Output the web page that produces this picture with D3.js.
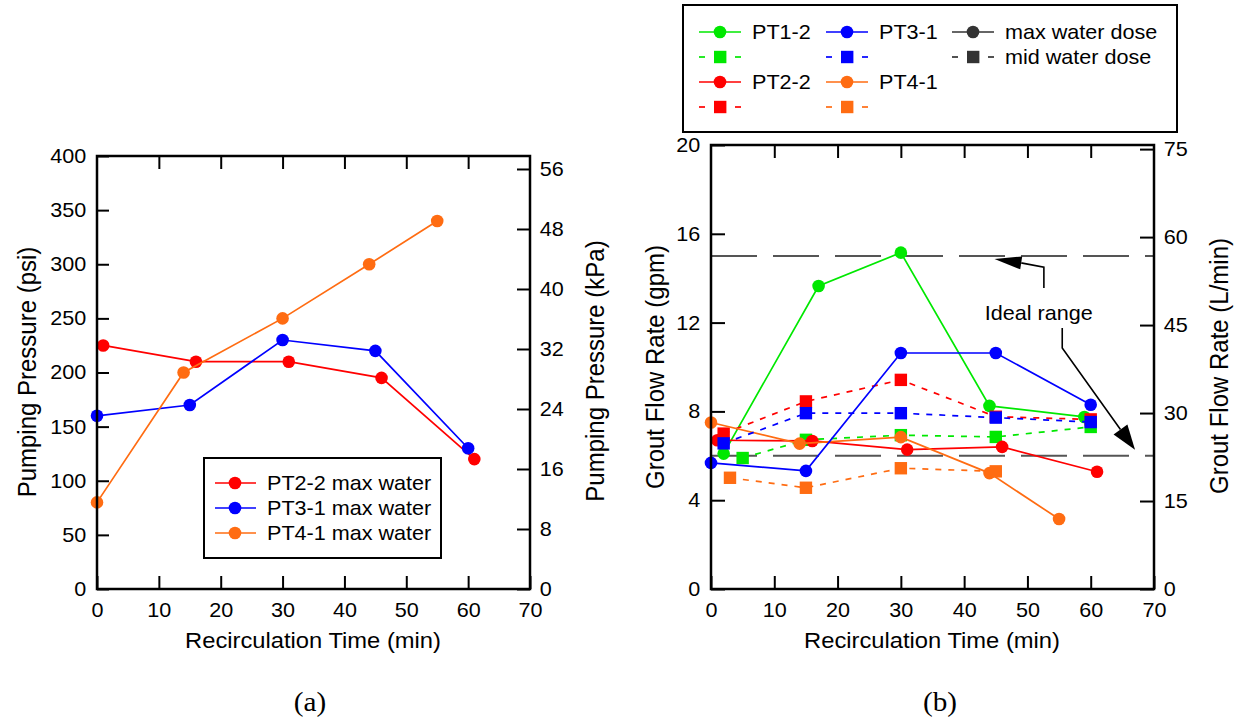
<!DOCTYPE html>
<html><head><meta charset="utf-8">
<script src="https://cdn.jsdelivr.net/npm/d3@7"></script>
<style>body{margin:0;background:#fff}svg{display:block}</style>
</head><body><svg id="c" width="1239" height="721"></svg>
<script>
// ---------- tick labels ----------
const timeTicks = [0, 10, 20, 30, 40, 50, 60, 70];
const psiTicks = [0, 50, 100, 150, 200, 250, 300, 350, 400];
const kpaTicks = [0, 8, 16, 24, 32, 40, 48, 56];
const gpmTicks = [0, 4, 8, 12, 16, 20];
const lpmTicks = [0, 15, 30, 45, 60, 75];

// ---------- chart (a): pumping pressure ----------
const legendA = ["PT2-2 max water", "PT3-1 max water", "PT4-1 max water"];
const pt22TimeA = [1, 16, 31, 46, 61];
const pt22Psi   = [225, 210, 210, 195, 120];
const pt31TimeA = [0, 15, 30, 45, 60];
const pt31Psi   = [160, 170, 230, 220, 130];
const pt41TimeA = [0, 14, 30, 44, 55];
const pt41Psi   = [80, 200, 250, 300, 340];

// ---------- chart (b): grout flow rate ----------
const seriesB = ["PT1-2", "PT3-1", "PT2-2", "PT4-1"];
const doseLabels = ["max water dose", "mid water dose"];
// max water dose (circles, solid)
const pt12MaxTime = [2, 17, 30, 44, 59];
const pt12MaxGpm  = [6.1, 13.65, 15.15, 8.25, 7.75];
const pt22MaxTime = [1, 16, 31, 46, 61];
const pt22MaxGpm  = [6.7, 6.67, 6.28, 6.4, 5.28];
const pt31MaxTime = [0, 15, 30, 45, 60];
const pt31MaxGpm  = [5.68, 5.32, 10.63, 10.63, 8.3];
const pt41MaxTime = [0, 14, 30, 44, 55];
const pt41MaxGpm  = [7.5, 6.55, 6.84, 5.22, 3.15];
// mid water dose (squares, dashed)
const pt12MidTime = [5, 15, 30, 45, 60];
const pt12MidGpm  = [5.9, 6.72, 6.93, 6.85, 7.3];
const pt22MidTime = [2, 15, 30, 45, 60];
const pt22MidGpm  = [7.0, 8.45, 9.42, 7.76, 7.64];
const pt31MidTime = [2, 15, 30, 45, 60];
const pt31MidGpm  = [6.56, 7.92, 7.92, 7.72, 7.52];
const pt41MidTime = [3, 15, 30, 45];
const pt41MidGpm  = [5.01, 4.56, 5.44, 5.3];
// ideal range
const idealRange = [6, 15];
const idealLabel = "Ideal range";

const colors = {"PT1-2": "#00e800", "PT2-2": "#ff0000", "PT3-1": "#0000ff", "PT4-1": "#ff6c12", "dose": "#333333"};

const SX = 1.08;
const FONT = "'Liberation Sans', Arial, Helvetica, sans-serif";
const svg = d3.select("#c");

function addText(x, y, str, size, opts = {}) {
  const t = svg.append("text")
    .attr("transform", `translate(${x},${y}) ` + (opts.rotate ? `rotate(-90) scale(1,${SX})` : `scale(${SX},1)`))
    .attr("font-family", opts.family || FONT)
    .attr("font-size", size)
    .attr("text-anchor", opts.anchor || "start")
    .attr("fill", "#000")
    .text(str);
  if (opts.central) t.attr("dominant-baseline", "central");
  return t;
}

function styleAxis(g, size) {
  g.select(".domain").remove();
  g.selectAll(".tick line").attr("stroke", "#000").attr("stroke-width", 2);
  g.selectAll(".tick text").attr("font-size", size).attr("font-family", FONT).attr("fill", "#000")
    .attr("transform", `scale(${SX},1)`);
}

function drawSeries(g, x, y, ts, vs, color, shape, dashed) {
  const data = ts.map((t, i) => [t, vs[i]]);
  g.append("path").datum(data)
    .attr("d", d3.line().x(d => x(d[0])).y(d => y(d[1])))
    .attr("fill", "none").attr("stroke", color).attr("stroke-width", 1.7)
    .attr("stroke-dasharray", dashed ? "6,7" : null);
  if (shape === "circle") {
    g.selectAll(null).data(data).enter().append("circle")
      .attr("cx", d => x(d[0])).attr("cy", d => y(d[1])).attr("r", 6.3).attr("fill", color);
  } else {
    g.selectAll(null).data(data).enter().append("rect")
      .attr("x", d => x(d[0]) - 6.2).attr("y", d => y(d[1]) - 6.2)
      .attr("width", 12.4).attr("height", 12.4).attr("fill", color);
  }
}

// ================= chart (a) =================
const A = {l: 97, r: 530, t: 156, b: 589};
const xA = d3.scaleLinear().domain([0, 70]).range([A.l, A.r]);
const yA = d3.scaleLinear().domain([0, 400]).range([A.b, A.t]);
const yA2 = d3.scaleLinear().domain([0, 56 * 400 / 388]).range([A.b, A.t]);

const gA = svg.append("g");
gA.append("g").attr("transform", `translate(0,${A.b})`)
  .call(d3.axisBottom(xA).tickValues(timeTicks).tickSize(-13).tickPadding(14).tickFormat(d3.format("d")))
  .call(g => styleAxis(g, 20));
gA.append("g").attr("transform", `translate(0,${A.t})`)
  .call(d3.axisTop(xA).tickValues(timeTicks.slice(1, -1)).tickSize(-13).tickFormat(""))
  .call(g => styleAxis(g, 20));
gA.append("g").attr("transform", `translate(${A.l},0)`)
  .call(d3.axisLeft(yA).tickValues(psiTicks).tickSize(-12).tickPadding(10).tickFormat(d3.format("d")))
  .call(g => styleAxis(g, 20));
gA.append("g").attr("transform", `translate(${A.r},0)`)
  .call(d3.axisRight(yA2).tickValues(kpaTicks).tickSize(-13).tickPadding(9).tickFormat(d3.format("d")))
  .call(g => styleAxis(g, 20));

const seriesA = gA.append("g");
drawSeries(seriesA, xA, yA, pt22TimeA, pt22Psi, colors["PT2-2"], "circle", false);
drawSeries(seriesA, xA, yA, pt31TimeA, pt31Psi, colors["PT3-1"], "circle", false);
drawSeries(seriesA, xA, yA, pt41TimeA, pt41Psi, colors["PT4-1"], "circle", false);

gA.append("rect").attr("x", A.l).attr("y", A.t).attr("width", A.r - A.l).attr("height", A.b - A.t)
  .attr("fill", "none").attr("stroke", "#000").attr("stroke-width", 2.5);

// legend (a)
svg.append("rect").attr("x", 204).attr("y", 458).attr("width", 237).attr("height", 100)
  .attr("fill", "#fff").attr("stroke", "#000").attr("stroke-width", 2);
const legColorsA = [colors["PT2-2"], colors["PT3-1"], colors["PT4-1"]];
legendA.forEach((name, i) => {
  const yy = 483 + i * 25;
  svg.append("line").attr("x1", 215).attr("x2", 256).attr("y1", yy).attr("y2", yy)
    .attr("stroke", legColorsA[i]).attr("stroke-width", 1.7);
  svg.append("circle").attr("cx", 235).attr("cy", yy).attr("r", 6.3).attr("fill", legColorsA[i]);
  addText(267, yy + 7, name, 20);
});

addText(313, 648, "Recirculation Time (min)", 22, {anchor: "middle"});
addText(27, 372, "Pumping Pressure (psi)", 24, {anchor: "middle", rotate: true, central: true});
addText(595, 371, "Pumping Pressure (kPa)", 24, {anchor: "middle", rotate: true, central: true});
addText(310, 711, "(a)", 27, {anchor: "middle", family: "'Liberation Serif', 'Times New Roman', serif"});

// ================= chart (b) =================
const B = {l: 711, r: 1154, t: 145, b: 589};
const xB = d3.scaleLinear().domain([0, 70]).range([B.l, B.r]);
const yB = d3.scaleLinear().domain([0, 20]).range([B.b, B.t]);
const yB2 = d3.scaleLinear().domain([0, 20 * 3.785]).range([B.b, B.t]);

const gB = svg.append("g");
gB.append("g").attr("transform", `translate(0,${B.b})`)
  .call(d3.axisBottom(xB).tickValues(timeTicks).tickSize(-13).tickPadding(14).tickFormat(d3.format("d")))
  .call(g => styleAxis(g, 20));
gB.append("g").attr("transform", `translate(0,${B.t})`)
  .call(d3.axisTop(xB).tickValues(timeTicks.slice(1, -1)).tickSize(-13).tickFormat(""))
  .call(g => styleAxis(g, 20));
gB.append("g").attr("transform", `translate(${B.l},0)`)
  .call(d3.axisLeft(yB).tickValues(gpmTicks).tickSize(-14).tickPadding(10).tickFormat(d3.format("d")))
  .call(g => styleAxis(g, 20));
gB.append("g").attr("transform", `translate(${B.r},0)`)
  .call(d3.axisRight(yB2).tickValues(lpmTicks).tickSize(-14).tickPadding(9).tickFormat(d3.format("d")))
  .call(g => styleAxis(g, 20));

// ideal range lines
gB.selectAll(null).data(idealRange).enter().append("line")
  .attr("x1", B.l).attr("x2", B.r).attr("y1", d => yB(d)).attr("y2", d => yB(d))
  .attr("stroke", "#555").attr("stroke-width", 2).attr("stroke-dasharray", "46,16");

const sB = gB.append("g");
drawSeries(sB, xB, yB, pt12MaxTime, pt12MaxGpm, colors["PT1-2"], "circle", false);
drawSeries(sB, xB, yB, pt12MidTime, pt12MidGpm, colors["PT1-2"], "square", true);
drawSeries(sB, xB, yB, pt22MaxTime, pt22MaxGpm, colors["PT2-2"], "circle", false);
drawSeries(sB, xB, yB, pt22MidTime, pt22MidGpm, colors["PT2-2"], "square", true);
drawSeries(sB, xB, yB, pt41MaxTime, pt41MaxGpm, colors["PT4-1"], "circle", false);
drawSeries(sB, xB, yB, pt41MidTime, pt41MidGpm, colors["PT4-1"], "square", true);
drawSeries(sB, xB, yB, pt31MaxTime, pt31MaxGpm, colors["PT3-1"], "circle", false);
drawSeries(sB, xB, yB, pt31MidTime, pt31MidGpm, colors["PT3-1"], "square", true);

gB.append("rect").attr("x", B.l).attr("y", B.t).attr("width", B.r - B.l).attr("height", B.b - B.t)
  .attr("fill", "none").attr("stroke", "#000").attr("stroke-width", 2.5);

// annotation (data coordinates of leader lines)
const arrowUp = [[52.6, 13.56], [52.6, 14.5], [49.2, 14.68], [44.8, 14.87]];
const arrowDown = [[55.5, 11.76], [55.5, 10.86], [67.0, 6.27]];
function drawArrow(pts, headLen, headHalf) {
  const p = pts.map(d => [xB(d[0]), yB(d[1])]);
  const tip = p[p.length - 1], prev = p[p.length - 2];
  const dx = tip[0] - prev[0], dy = tip[1] - prev[1], L = Math.hypot(dx, dy);
  const ux = dx / L, uy = dy / L;
  const bx = tip[0] - ux * headLen, by = tip[1] - uy * headLen;
  const line = p.slice(0, -1).concat([[bx, by]]);
  gB.append("path").attr("d", d3.line()(line)).attr("fill", "none").attr("stroke", "#000").attr("stroke-width", 1.6);
  gB.append("path").attr("d", d3.line()([[tip[0], tip[1]], [bx - uy * headHalf, by + ux * headHalf], [bx + uy * headHalf, by - ux * headHalf]]) + "Z")
    .attr("fill", "#000");
}
drawArrow(arrowUp, 27, 6.5);
drawArrow(arrowDown, 25, 8.5);
addText(xB(51.8), yB(12.1), idealLabel, 20, {anchor: "middle"});

// legend (b)
svg.append("rect").attr("x", 683).attr("y", 5).attr("width", 494).attr("height", 127)
  .attr("fill", "#fff").attr("stroke", "#000").attr("stroke-width", 2);
const legCols = [699, 826, 952];
const legRows = [32, 82];
const legItems = [
  {name: seriesB[0], color: colors["PT1-2"], col: 0, row: 0},
  {name: seriesB[1], color: colors["PT3-1"], col: 1, row: 0},
  {name: seriesB[2], color: colors["PT2-2"], col: 0, row: 1},
  {name: seriesB[3], color: colors["PT4-1"], col: 1, row: 1},
];
function legendPair(x0, yy, color, name, withMid) {
  svg.append("line").attr("x1", x0).attr("x2", x0 + 42).attr("y1", yy).attr("y2", yy)
    .attr("stroke", color).attr("stroke-width", 1.7);
  svg.append("circle").attr("cx", x0 + 21).attr("cy", yy).attr("r", 6.3).attr("fill", color);
  addText(x0 + 53, yy + 7, name, 20);
  if (withMid) {
    const y2 = yy + 25;
    svg.append("line").attr("x1", x0).attr("x2", x0 + 6).attr("y1", y2).attr("y2", y2).attr("stroke", color).attr("stroke-width", 1.7);
    svg.append("line").attr("x1", x0 + 36).attr("x2", x0 + 42).attr("y1", y2).attr("y2", y2).attr("stroke", color).attr("stroke-width", 1.7);
    svg.append("rect").attr("x", x0 + 15).attr("y", y2 - 6.2).attr("width", 12.4).attr("height", 12.4).attr("fill", color);
  }
}
legItems.forEach(it => legendPair(legCols[it.col], legRows[it.row], it.color, it.name, true));
// dose legend
{
  const x0 = legCols[2], yy = legRows[0];
  svg.append("line").attr("x1", x0).attr("x2", x0 + 42).attr("y1", yy).attr("y2", yy).attr("stroke", colors.dose).attr("stroke-width", 1.7);
  svg.append("circle").attr("cx", x0 + 21).attr("cy", yy).attr("r", 6.3).attr("fill", colors.dose);
  addText(x0 + 53, yy + 7, doseLabels[0], 20);
  const y2 = yy + 25;
  svg.append("line").attr("x1", x0).attr("x2", x0 + 6).attr("y1", y2).attr("y2", y2).attr("stroke", colors.dose).attr("stroke-width", 1.7);
  svg.append("line").attr("x1", x0 + 36).attr("x2", x0 + 42).attr("y1", y2).attr("y2", y2).attr("stroke", colors.dose).attr("stroke-width", 1.7);
  svg.append("rect").attr("x", x0 + 15).attr("y", y2 - 6.2).attr("width", 12.4).attr("height", 12.4).attr("fill", colors.dose);
  addText(x0 + 53, y2 + 7, doseLabels[1], 20);
}

addText(932, 648, "Recirculation Time (min)", 22, {anchor: "middle"});
addText(655, 367, "Grout Flow Rate (gpm)", 24, {anchor: "middle", rotate: true, central: true});
addText(1219, 366, "Grout Flow Rate (L/min)", 24, {anchor: "middle", rotate: true, central: true});
addText(940, 711, "(b)", 27, {anchor: "middle", family: "'Liberation Serif', 'Times New Roman', serif"});
</script></body></html>
